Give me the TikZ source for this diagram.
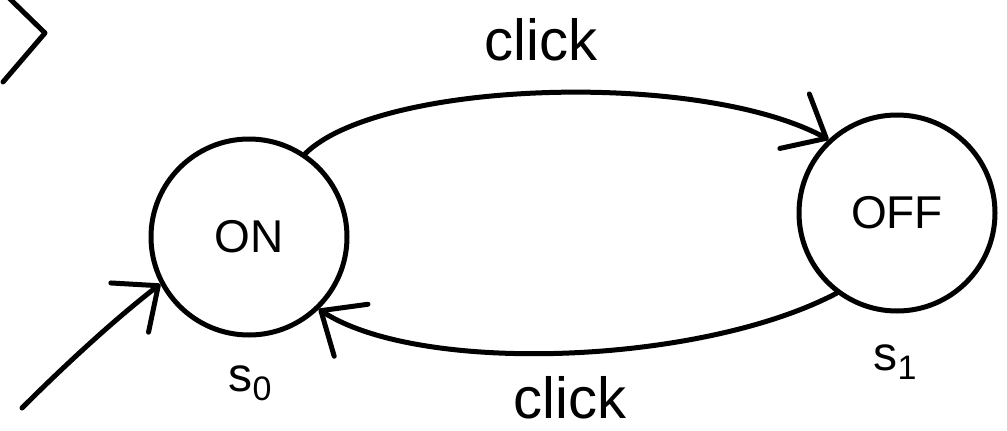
\documentclass[tikz,border=0pt]{standalone}
\usepackage{fontspec}
\setmainfont{Liberation Sans}
\usetikzlibrary{arrows.meta}
\tikzset{
  pen/.style={line width=5pt, line cap=round, line join=round, black},
  state/.style={pen, draw, circle, minimum size=196pt, inner sep=0pt, font=\fontsize{46}{46}\selectfont},
  arr/.style={pen, -{Straight Barb[length=36pt,width=62pt,line cap=round,line join=round]}},
  lbl/.style={font=\fontsize{58}{58}\selectfont, inner sep=0pt, anchor=base},
  sub/.style={font=\fontsize{48}{48}\selectfont, inner sep=0pt}
}
\begin{document}
\begin{tikzpicture}[x=1pt,y=-1pt]
\useasboundingbox (0,0) rectangle (1007,431);
\fill[white] (0,0) rectangle (1007,431);
% corner mark
\draw[pen] (8,-3) -- (45,33) -- (3,82);
% states
\node[state] (on) at (249,237) {ON};
\node[state] (off) at (897,213) {OFF};
\coordinate (start) at (22,408);
% transitions
\draw[arr] (on.56) .. controls (380,80) and (700,70) .. (off.133);
\draw[arr] (off.-127) .. controls (700,365) and (420,375) .. (on.-46);
\draw[arr] (start) .. controls (70,360) and (120,315) .. (on.208);
% labels
\node[lbl] (l1) at (541,60) {click};
\node[lbl] (l2) at (570,418) {click};
\node[sub] (s0) at (250,383) {s\raisebox{-0.35ex}{\fontsize{34}{34}\selectfont 0}};
\node[sub] (s1) at (895,362) {s\raisebox{-0.35ex}{\fontsize{34}{34}\selectfont 1}};
\end{tikzpicture}
\end{document}
